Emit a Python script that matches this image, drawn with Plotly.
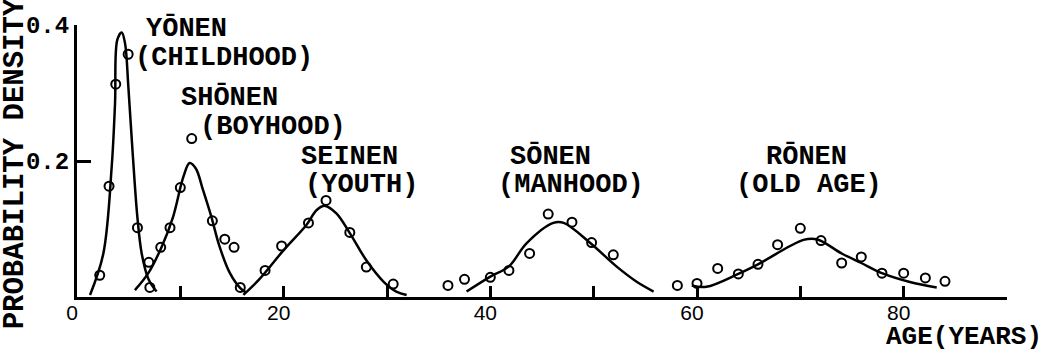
import plotly.graph_objects as go

# ---- observed points (age in years, probability density) ----
yonen_age = [2.2, 3.1, 3.75, 4.95, 5.85, 7.05]
yonen_obs = [0.032, 0.163, 0.313, 0.357, 0.102, 0.014]

shonen_age = [6.95, 8.1, 9.0, 10.0, 11.1, 13.1, 14.3, 15.2, 15.8]
shonen_obs = [0.051, 0.073, 0.102, 0.161, 0.233, 0.112, 0.085, 0.073, 0.014]

seinen_age = [18.2, 19.8, 22.4, 24.1, 26.4, 28.0, 30.6]
seinen_obs = [0.039, 0.075, 0.109, 0.142, 0.095, 0.044, 0.019]

sonen_age = [35.9, 37.5, 40.0, 41.8, 43.8, 45.6, 47.9, 49.8, 51.9]
sonen_obs = [0.017, 0.026, 0.029, 0.039, 0.064, 0.122, 0.110, 0.080, 0.062]

ronen_age = [58.1, 60.0, 62.0, 64.0, 65.9, 67.8, 70.0, 72.0, 74.0, 75.9, 77.9, 80.0, 82.1, 84.0]
ronen_obs = [0.017, 0.020, 0.042, 0.034, 0.048, 0.077, 0.101, 0.083, 0.050, 0.059, 0.035, 0.035, 0.028, 0.023]

# ---- fitted curves ----
yonen_fit_x = [1.26, 2.55, 3.36, 3.68, 3.9, 4.33, 4.65, 4.97, 5.39, 5.84, 6.26, 6.9, 7.7]
yonen_fit_y = [0.003, 0.064, 0.192, 0.285, 0.378, 0.389, 0.373, 0.309, 0.211, 0.118, 0.064, 0.027, 0.008]

shonen_fit_x = [5.6, 6.9, 8.2, 9.3, 10.3, 10.9, 11.5, 12.2, 13.0, 13.8, 14.8, 15.8, 16.4]
shonen_fit_y = [0.010, 0.035, 0.074, 0.118, 0.177, 0.197, 0.189, 0.157, 0.118, 0.074, 0.035, 0.013, 0.006]

seinen_fit_x = [16.1, 17.7, 20.0, 22.2, 23.2, 24.0, 25.1, 26.4, 28.0, 29.7, 30.9, 31.9]
seinen_fit_y = [0.003, 0.027, 0.069, 0.106, 0.128, 0.134, 0.123, 0.094, 0.054, 0.022, 0.008, 0.003]

sonen_fit_x = [37.7, 40.0, 41.8, 43.5, 46.1, 47.1, 49.7, 52.2, 54.2, 55.8]
sonen_fit_y = [0.008, 0.030, 0.045, 0.079, 0.109, 0.109, 0.079, 0.045, 0.022, 0.008]

ronen_fit_x = [59.5, 60.9, 64.0, 65.9, 70.3, 71.6, 74.0, 75.9, 77.9, 80.6, 83.2]
ronen_fit_y = [0.017, 0.015, 0.034, 0.048, 0.084, 0.085, 0.064, 0.050, 0.035, 0.022, 0.014]

# ---- text ----
stage_names = ["YŌNEN", "SHŌNEN", "SEINEN", "SŌNEN", "RŌNEN"]
stage_glosses = ["(CHILDHOOD)", "(BOYHOOD)", "(YOUTH)", "(MANHOOD)", "(OLD AGE)"]
name_pos = [(6.6, 0.395), (10.0, 0.293), (21.6, 0.206), (41.8, 0.206), (66.6, 0.206)]
gloss_pos = [(5.5, 0.352), (11.8, 0.250), (22.0, 0.164), (40.6, 0.164), (63.7, 0.164)]

x_tickvals = [0, 10, 20, 30, 40, 50, 60, 70, 80, 90]
x_ticktext = ["0", "", "20", "", "40", "", "60", "", "80", ""]
y_tickvals = [0.2, 0.4]
y_ticktext = ["0.2", "0.4"]

MONO = "Liberation Mono"

fig = go.Figure()

curves = [(yonen_fit_x, yonen_fit_y), (shonen_fit_x, shonen_fit_y), (seinen_fit_x, seinen_fit_y),
          (sonen_fit_x, sonen_fit_y), (ronen_fit_x, ronen_fit_y)]
for cx, cy in curves:
    fig.add_trace(go.Scatter(x=cx, y=cy, mode="lines",
                             line=dict(color="black", width=2.5, shape="spline", smoothing=1.0),
                             showlegend=False, hoverinfo="skip"))

points = [(yonen_age, yonen_obs), (shonen_age, shonen_obs), (seinen_age, seinen_obs),
          (sonen_age, sonen_obs), (ronen_age, ronen_obs)]
for px_, py_ in points:
    fig.add_trace(go.Scatter(x=px_, y=py_, mode="markers",
                             marker=dict(symbol="circle-open", size=9, color="black",
                                         line=dict(width=2, color="black")),
                             showlegend=False, hoverinfo="skip"))

annotations = []
for (nx, ny), name in zip(name_pos, stage_names):
    annotations.append(dict(x=nx, y=ny, xref="x", yref="y", text=name, showarrow=False,
                            xanchor="left", yanchor="middle", borderpad=0,
                            font=dict(family=MONO, size=27, color="black", weight="bold")))
for (gx, gy), gl in zip(gloss_pos, stage_glosses):
    annotations.append(dict(x=gx, y=gy, xref="x", yref="y", text=gl, showarrow=False,
                            xanchor="left", yanchor="middle", borderpad=0,
                            font=dict(family=MONO, size=27, color="black", weight="bold")))

annotations.append(dict(x=-0.066, y=0.49, xref="paper", yref="paper", text="PROBABILITY DENSITY",
                        textangle=-90, showarrow=False, xanchor="center", yanchor="middle",
                        font=dict(family=MONO, size=29, color="black", weight="bold")))
annotations.append(dict(x=1.039, y=-0.205, xref="paper", yref="paper", text="AGE(YEARS)",
                        showarrow=False, xanchor="right", yanchor="bottom", borderpad=0,
                        font=dict(family=MONO, size=26, color="black", weight="bold")))

fig.update_layout(
    width=1045, height=353,
    margin=dict(l=77, r=38, t=25, b=56),
    paper_bgcolor="white", plot_bgcolor="white",
    annotations=annotations,
    showlegend=False,
)

fig.update_xaxes(range=[0, 90], showgrid=False, zeroline=False,
                 showline=True, linecolor="black", linewidth=3,
                 tickmode="array", tickvals=x_tickvals, ticktext=x_ticktext,
                 ticks="inside", ticklen=11, tickwidth=2.5, tickcolor="black",
                 tickfont=dict(family="Liberation Sans", size=21, color="black"),
                 ticklabelshift=-5, ticklabelstandoff=-5)
fig.update_yaxes(range=[0, 0.4], showgrid=False, zeroline=False,
                 showline=True, linecolor="black", linewidth=3,
                 tickmode="array", tickvals=y_tickvals, ticktext=y_ticktext,
                 ticks="inside", ticklen=14, tickwidth=3, tickcolor="black",
                 tickfont=dict(family=MONO, size=24, color="black", weight="bold"),
                 ticklabelstandoff=0)

fig.write_html("out.html", config={"displayModeBar": False},
               post_script="document.body.style.margin='0';document.body.style.overflow='hidden';")
